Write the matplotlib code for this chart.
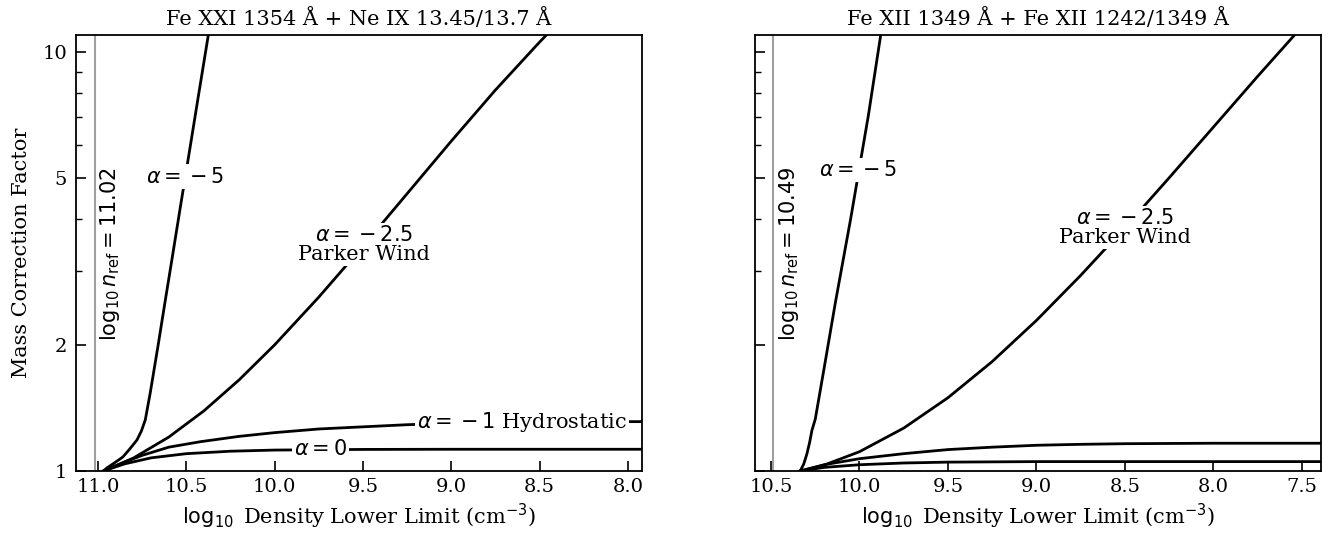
import numpy as np
import matplotlib
matplotlib.use("Agg")
import matplotlib.pyplot as plt
from matplotlib.ticker import FixedLocator, FixedFormatter, NullFormatter

plt.rcParams['font.family'] = 'DejaVu Serif'
plt.rcParams['mathtext.fontset'] = 'dejavusans'
plt.rcParams['font.size'] = 15

# panel titles and reference densities
titles = ["Fe XXI 1354 Å + Ne IX 13.45/13.7 Å", "Fe XII 1349 Å + Fe XII 1242/1349 Å"]
n_ref = [11.02, 10.49]
xlims = [(11.125, 7.92), (10.59, 7.39)]

# left panel
left_a5_x = [10.97, 10.95, 10.91, 10.86, 10.82, 10.78, 10.755, 10.733, 10.705, 10.66, 10.62, 10.58, 10.534, 10.48, 10.43, 10.375, 10.36]
left_a5_y = [1.00, 1.017, 1.044, 1.08, 1.13, 1.186, 1.246, 1.324, 1.536, 2.00, 2.55, 3.24, 4.28, 5.90, 7.97, 11.06, 11.8]
left_a25_x = [10.97, 10.8, 10.6, 10.4, 10.2, 10.0, 9.75, 9.5, 9.25, 9.0, 8.75, 8.5, 8.42]
left_a25_y = [1.00, 1.074, 1.205, 1.393, 1.653, 2.002, 2.603, 3.444, 4.597, 6.137, 8.128, 10.58, 11.46]
left_a1_x = [10.97, 10.85, 10.75, 10.6, 10.42, 10.2, 10.0, 9.75, 9.5, 9.25, 9.0, 8.5, 8.0, 7.92]
left_a1_y = [1.00, 1.05, 1.09, 1.14, 1.175, 1.21, 1.235, 1.26, 1.275, 1.29, 1.30, 1.308, 1.312, 1.312]
left_a0_x = [10.97, 10.85, 10.7, 10.5, 10.25, 10.0, 9.5, 9.0, 7.92]
left_a0_y = [1.00, 1.04, 1.075, 1.10, 1.115, 1.122, 1.126, 1.127, 1.127]

# right panel
right_a5_x = [10.335, 10.315, 10.297, 10.282, 10.269, 10.25, 10.2, 10.136, 10.05, 9.949, 9.88, 9.86]
right_a5_y = [1.00, 1.04, 1.10, 1.17, 1.25, 1.33, 1.76, 2.53, 4.0, 7.1, 11.0, 12.3]
right_a25_x = [10.335, 10.2, 10.0, 9.75, 9.5, 9.25, 9.0, 8.75, 8.5, 8.25, 8.0, 7.75, 7.54, 7.5]
right_a25_y = [1.00, 1.033, 1.112, 1.266, 1.496, 1.825, 2.288, 2.93, 3.81, 5.01, 6.62, 8.75, 11.0, 11.5]
right_a1_x = [10.335, 10.2, 10.0, 9.75, 9.5, 9.25, 9.0, 8.75, 8.5, 8.0, 7.39]
right_a1_y = [1.00, 1.035, 1.07, 1.10, 1.125, 1.14, 1.152, 1.158, 1.162, 1.165, 1.165]
right_a0_x = [10.335, 10.2, 10.0, 9.75, 9.5, 9.0, 7.39]
right_a0_y = [1.00, 1.02, 1.035, 1.045, 1.05, 1.053, 1.053]

fig, axes = plt.subplots(1, 2, figsize=(13.39, 5.43), dpi=100, sharey=True)
fig.subplots_adjust(left=0.0568, right=0.9866, bottom=0.1326, top=0.9355, wspace=0.2)

box = dict(facecolor='white', edgecolor='none', pad=1.5)

curves = [
    [(left_a5_x, left_a5_y), (left_a25_x, left_a25_y), (left_a1_x, left_a1_y), (left_a0_x, left_a0_y)],
    [(right_a5_x, right_a5_y), (right_a25_x, right_a25_y), (right_a1_x, right_a1_y), (right_a0_x, right_a0_y)],
]

for i, ax in enumerate(axes):
    ax.axvline(n_ref[i], color='#a0a0a0', lw=1.5, zorder=1)
    for cx, cy in curves[i]:
        ax.plot(cx, cy, color='black', lw=2, zorder=2)
    ax.set_yscale('log')
    ax.set_ylim(1, 11)
    ax.set_xlim(*xlims[i])
    ax.yaxis.set_major_locator(FixedLocator([1, 2, 5, 10]))
    ax.yaxis.set_minor_locator(FixedLocator([3, 4, 6, 7, 8, 9]))
    ax.yaxis.set_major_formatter(FixedFormatter(['1', '2', '5', '10']))
    ax.yaxis.set_minor_formatter(NullFormatter())
    ax.tick_params(which='major', direction='in', length=7, width=1.2, labelsize=14)
    ax.tick_params(which='minor', direction='in', length=4, width=1.0)
    ax.tick_params(axis='y', which='major', pad=6.5)
    ax.tick_params(axis='x', which='major', pad=5)
    for s in ax.spines.values():
        s.set_linewidth(1.3)
    ax.set_title(titles[i], fontsize=15, pad=7)
    ax.set_xlabel(r'$\log_{10}$ Density Lower Limit (cm$^{-3}$)', fontsize=15)
    ax.text(n_ref[i] - 0.09, 3.3, r'$\log_{10} n_{\rm ref} = %.2f$' % n_ref[i],
            rotation=90, ha='center', va='center', fontsize=15, zorder=3)

axes[0].set_xticks([11.0, 10.5, 10.0, 9.5, 9.0, 8.5, 8.0])
axes[1].set_xticks([10.5, 10.0, 9.5, 9.0, 8.5, 8.0, 7.5])
axes[1].tick_params(labelleft=False)
axes[0].set_ylabel('Mass Correction Factor', fontsize=15, labelpad=8)

a5 = r'$\alpha = \:{-}\,5$'
a25 = r'$\alpha = \:{-}\,2.5$' + '\nParker Wind'

ax = axes[0]
ax.text(10.51, 5.05, a5, ha='center', va='center', bbox=box, zorder=3)
ax.text(9.494, 3.47, a25, ha='center', va='center', linespacing=1.0, bbox=box, zorder=3)
ax.text(8.597, 1.312, r'$\alpha = \:{-}\,1$ Hydrostatic', ha='center', va='center', bbox=box, zorder=3)
ax.text(9.74, 1.127, r'$\alpha = 0$', ha='center', va='center', bbox=box, zorder=3)

ax = axes[1]
ax.text(10.006, 5.24, a5, ha='center', va='center', bbox=box, zorder=3)
ax.text(8.5, 3.81, a25, ha='center', va='center', linespacing=1.0, bbox=box, zorder=3)

fig.savefig('out.png', dpi=100)
